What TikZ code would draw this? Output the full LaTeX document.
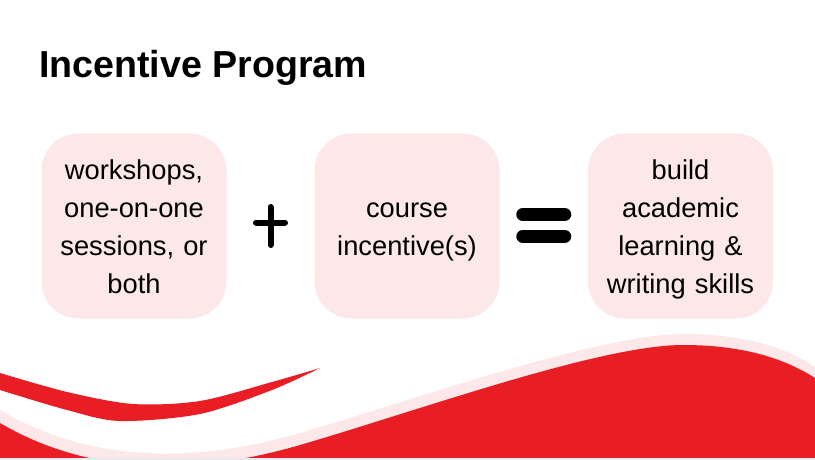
\documentclass[tikz,border=0pt]{standalone}
\usepackage{fontspec}
\setmainfont{Liberation Sans}
\usetikzlibrary{calc}
\definecolor{swred}{HTML}{E91D24}
\definecolor{swpink}{HTML}{FDE8E9}
\definecolor{edgegray}{HTML}{E7E9EE}
\newcommand{\topstrut}{\rule{0pt}{29.5pt}}
\newcommand{\botstrut}{\rule[-8.3pt]{0pt}{8.3pt}}
\tikzset{
  card/.style={fill=swpink, rounded corners=37pt, minimum width=185pt,
    minimum height=185pt, text width=170pt, inner sep=0pt, align=center,
    font=\fontsize{27.3}{37.8}\selectfont,
    execute at begin node=\topstrut, execute at end node=\botstrut},
  sign/.style={line width=6pt, line cap=round},
}
\begin{document}
\begin{tikzpicture}[x=1pt,y=-1pt]
  \clip (0,0) rectangle (815,460);
  \fill[white] (0,0) rectangle (815,460);
  \node[anchor=base west, inner sep=0pt, font=\fontsize{37.6}{45}\selectfont\bfseries]
    (title) at (39,77.5) {Incentive Program};
  \node[card] (ws) at (134,226) {workshops,\\one-on-one\\sessions, or\\both};
  \node[card] (ci) at (407,226) {course\\incentive(s)};
  \node[card] (sk) at (680.5,226) {build\\academic\\learning \&\\writing skills};
  \coordinate (plus) at ($(ws.east)!0.5!(ci.west)$);
  \coordinate (equal) at ($(ci.east)!0.5!(sk.west)$);
  \draw[sign] ([yshift=19pt]plus) -- ([yshift=-19pt]plus)
    ([xshift=-14.5pt,yshift=3.5pt]plus) -- ([xshift=14.5pt,yshift=3.5pt]plus);
  \draw[sign, line width=13pt] ([xshift=-21pt,yshift=11.5pt]equal) -- ([xshift=21pt,yshift=11.5pt]equal)
    ([xshift=-21pt,yshift=-10.5pt]equal) -- ([xshift=21pt,yshift=-10.5pt]equal);
  \begin{scope}
    \fill[swpink] (0,410) .. controls (80,457) and (180,468) .. (300,433)
      .. controls (420,398) and (600,334) .. (683,334)
      .. controls (750,334) and (790,350) .. (815,367) -- (815,470) -- (0,470) -- cycle;
    \fill[swred] (0,423) .. controls (80,470) and (180,480) .. (300,445)
      .. controls (420,410) and (600,345) .. (683,345)
      .. controls (750,345) and (790,362) .. (815,378) -- (815,470) -- (0,470) -- cycle;
    \fill[swred] plot[smooth] coordinates {(0,373) (67,392) (133,404) (200,401) (272,382) (320,368)}
      -- plot[smooth] coordinates {(320,368) (272,390) (200,414) (120,421) (67,410) (0,390)} -- cycle;
    \fill[edgegray] (0,457.5) rectangle (815,460);
  \end{scope}
\end{tikzpicture}
\end{document}
